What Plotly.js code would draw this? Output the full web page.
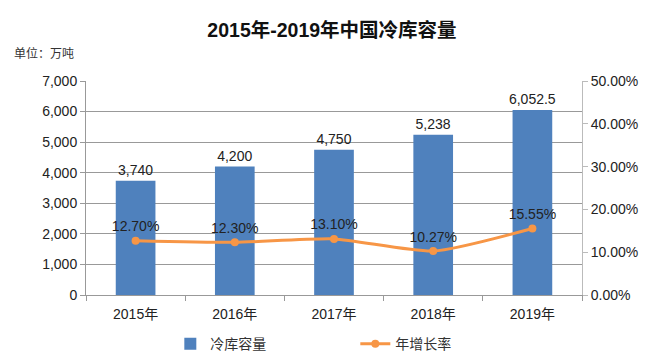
<!DOCTYPE html>
<html><head><meta charset="utf-8">
<script src="https://cdn.plot.ly/plotly-3.0.1.min.js"></script>
<style>body{margin:0;background:#fff}#c{width:664px;height:356px}</style>
</head><body><div id="c"></div>
<script>
const years = ["2015年","2016年","2017年","2018年","2019年"];
const capacity = [3740, 4200, 4750, 5238, 6052.5];
const capacityLabels = ["3,740","4,200","4,750","5,238","6,052.5"];
const growth = [0.1270, 0.1230, 0.1310, 0.1027, 0.1555];
const growthLabels = ["12.70%","12.30%","13.10%","10.27%","15.55%"];

const F = "Liberation Sans, Arial, Noto Sans CJK SC, sans-serif";
const data = [
  {type:'bar', x:years, y:capacity, name:'冷库容量', marker:{color:'#4f81bd'},
   text:capacityLabels, textposition:'outside', cliponaxis:false, constraintext:'none',
   textfont:{family:F, size:14, color:'#222'}, hoverinfo:'skip'},
  {type:'scatter', mode:'lines+markers+text', x:years, y:growth, yaxis:'y2', name:'年增长率',
   line:{color:'#f79646', width:3, shape:'spline', smoothing:0.6},
   marker:{color:'#f79646', size:8},
   text:growthLabels, textposition:'top center', cliponaxis:false,
   textfont:{family:F, size:14, color:'#222'}, hoverinfo:'skip'}
];
const layout = {
  width:664, height:356,
  margin:{l:86, r:82, t:81, b:61, autoexpand:false},
  paper_bgcolor:'#fff', plot_bgcolor:'#fff',
  font:{family:F, color:'#222'},
  title:{text:'<b>2015年-2019年中国冷库容量</b>', x:0.5, xanchor:'center', y:0.915, yanchor:'middle',
         font:{family:F, size:19.5, color:'#111'}},
  bargap:0.6,
  showlegend:true,
  legend:{orientation:'h', x:0.17, xanchor:'left', y:-0.155, yanchor:'top',
          font:{family:F, size:14, color:'#333'}, traceorder:'normal', itemwidth:30,
          entrywidth:140},
  xaxis:{showline:true, linecolor:'#999', linewidth:1, ticks:'outside', tickson:'boundaries',
         ticklen:5, tickcolor:'#999', ticklabelstandoff:6,
         tickfont:{family:F, size:14, color:'#222'}, showgrid:false},
  yaxis:{range:[0,7000], dtick:1000, tickformat:',', showline:true, linecolor:'#999',
         ticks:'outside', ticklen:5, tickcolor:'#999',
         gridcolor:'#999', gridwidth:1, tickfont:{family:F, size:14, color:'#222'}, zeroline:false},
  yaxis2:{range:[0,0.5], dtick:0.1, tickformat:'.2%', overlaying:'y', side:'right',
          showline:true, linecolor:'#bbb', ticks:'outside', ticklen:5, tickcolor:'#bbb',
          showgrid:false, zeroline:false, tickfont:{family:F, size:14, color:'#222'}},
  annotations:[{text:'单位：万吨', xref:'paper', yref:'paper', x:-0.15, xanchor:'left', y:1.13, yanchor:'middle',
                showarrow:false, font:{family:F, size:12, color:'#333'}}]
};
Plotly.newPlot('c', data, layout, {displayModeBar:false, staticPlot:true});
</script></body></html>
